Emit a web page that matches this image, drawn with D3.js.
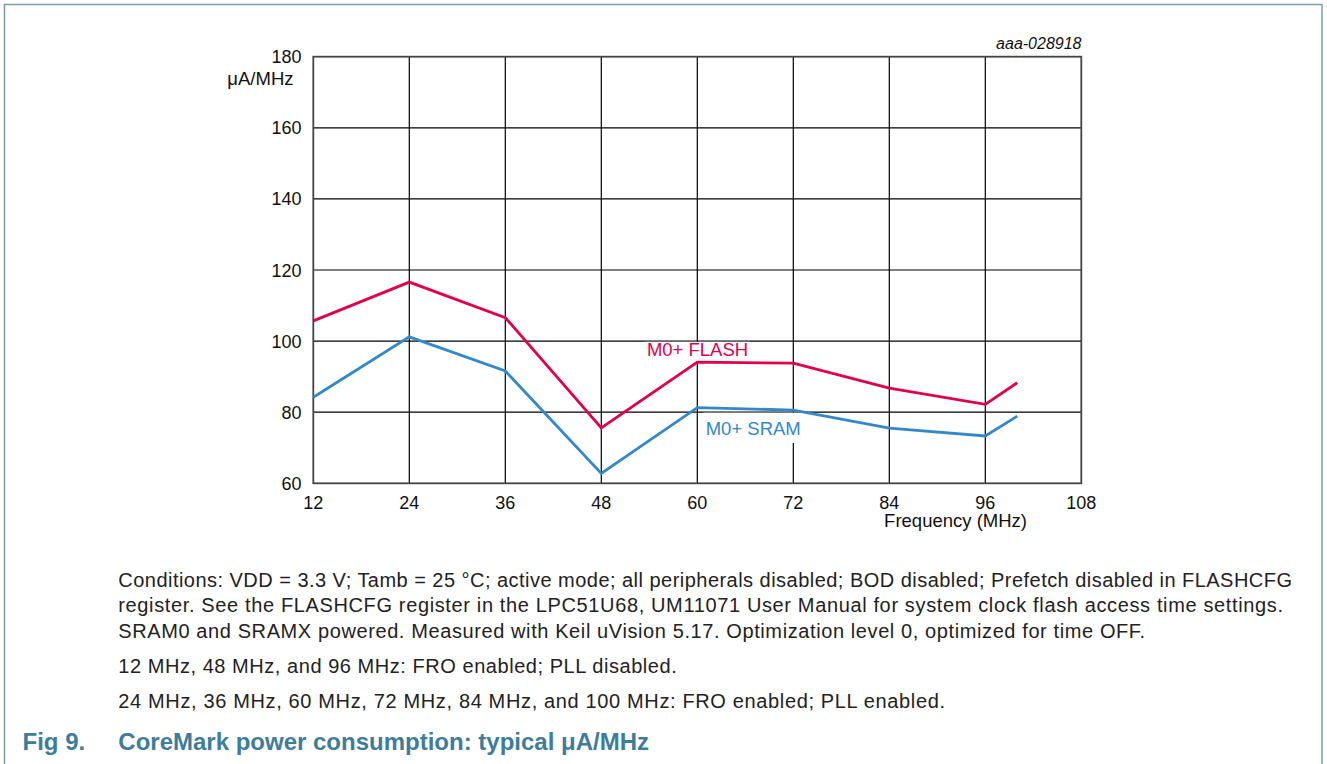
<!DOCTYPE html>
<html>
<head>
<meta charset="utf-8">
<script src="https://cdn.jsdelivr.net/npm/d3@7"></script>
<style>
  body { margin: 0; background: #fff; }
  svg { display: block; font-family: "Liberation Sans", Arial, sans-serif; }
</style>
</head>
<body>
<svg id="chart" width="1327" height="764"></svg>
<script>
// values
const freqs = [12, 24, 36, 48, 60, 72, 84, 96, 100];
const flash = [105.7, 116.6, 106.6, 75.6, 94.1, 93.8, 86.8, 82.2, 88.3];
const sram = [84.2, 101.2, 91.6, 62.8, 81.3, 80.6, 75.5, 73.3, 78.9];
const xTicks = [12, 24, 36, 48, 60, 72, 84, 96, 108];
const yTicks = [60, 80, 100, 120, 140, 160, 180];

const notes = [
  "Conditions: VDD = 3.3 V; Tamb = 25 °C; active mode; all peripherals disabled; BOD disabled; Prefetch disabled in FLASHCFG",
  "register. See the FLASHCFG register in the LPC51U68, UM11071 User Manual for system clock flash access time settings.",
  "SRAM0 and SRAMX powered. Measured with Keil uVision 5.17. Optimization level 0, optimized for time OFF.",
  "12 MHz, 48 MHz, and 96 MHz: FRO enabled; PLL disabled.",
  "24 MHz, 36 MHz, 60 MHz, 72 MHz, 84 MHz, and 100 MHz: FRO enabled; PLL enabled."
];
const noteY = [586.7, 612.3, 638.3, 673.3, 708.3];
const noteW = [1173.7, 1164.7, 1026.7, 558.4, 826.7];

const red = "#e2004e";
const blue = "#3388cc";

const svg = d3.select("#chart");

// outer frame of the figure
svg.append("rect")
  .attr("x", 4.5).attr("y", 4.5)
  .attr("width", 1317.5).attr("height", 820)
  .attr("fill", "none")
  .attr("stroke", "#7f9cad")
  .attr("stroke-width", 1.5);

const x = d3.scaleLinear().domain([12, 108]).range([313.3, 1081.3]);
const y = d3.scaleLinear().domain([60, 180]).range([483.3, 56.7]);

// grid
const grid = svg.append("g");
grid.selectAll(".vg")
  .data(xTicks.slice(1, -1))
  .enter()
  .append("line")
  .attr("x1", (d) => x(d)).attr("x2", (d) => x(d))
  .attr("y1", y(60)).attr("y2", y(180))
  .attr("stroke", "#000")
  .attr("stroke-width", 1.2);
grid.selectAll(".hg")
  .data(yTicks.slice(1, -1))
  .enter()
  .append("line")
  .attr("x1", x(12)).attr("x2", x(108))
  .attr("y1", (d) => y(d)).attr("y2", (d) => y(d))
  .attr("stroke", "#000")
  .attr("stroke-width", 1.2);

svg.append("rect")
  .attr("x", x(12)).attr("y", y(180))
  .attr("width", x(108) - x(12)).attr("height", y(60) - y(180))
  .attr("fill", "none")
  .attr("stroke", "#444")
  .attr("stroke-width", 1.8);

// tick labels
svg.selectAll(".yl")
  .data(yTicks)
  .enter()
  .append("text")
  .attr("x", 301.5)
  .attr("y", (d) => y(d) + 6.5)
  .attr("text-anchor", "end")
  .attr("font-size", 18)
  .attr("fill", "#111")
  .text((d) => d);

svg.selectAll(".xl")
  .data(xTicks)
  .enter()
  .append("text")
  .attr("x", (d) => x(d))
  .attr("y", 508.5)
  .attr("text-anchor", "middle")
  .attr("font-size", 18)
  .attr("fill", "#111")
  .text((d) => d);

svg.append("text")
  .attr("x", 293.5).attr("y", 85)
  .attr("text-anchor", "end")
  .attr("font-size", 18.5)
  .attr("fill", "#111")
  .text("μA/MHz");

svg.append("text")
  .attr("x", 1027).attr("y", 526.5)
  .attr("text-anchor", "end")
  .attr("font-size", 18.5)
  .attr("fill", "#111")
  .text("Frequency (MHz)");

svg.append("text")
  .attr("x", 1081.5).attr("y", 49)
  .attr("text-anchor", "end")
  .attr("font-size", 16)
  .attr("font-style", "italic")
  .attr("fill", "#111")
  .text("aaa-028918");

// in-plot series labels on white boxes
const seriesLabels = [
  { text: "M0+ FLASH", fx: 53.7, fy: 95.8, color: red, padTop: 1, padBot: 6 },
  { text: "M0+ SRAM", fx: 61.05, fy: 73.6, color: blue, padTop: 9, padBot: 8 }
];
seriesLabels.forEach((l) => {
  const fs = 18.5;
  const g = svg.append("g");
  const bg = g.append("rect").attr("fill", "#fff");
  const t = g.append("text")
    .attr("x", x(l.fx)).attr("y", y(l.fy))
    .attr("font-size", fs)
    .attr("fill", l.color)
    .text(l.text);
  const b = t.node().getBBox();
  const cap = fs * 0.716;
  bg.attr("x", b.x - 2).attr("y", y(l.fy) - cap - l.padTop)
    .attr("width", b.width + 4).attr("height", cap + l.padTop + l.padBot);
});

// series
const line = d3.line()
  .x((d, i) => x(freqs[i]))
  .y((d) => y(d));

[[flash, red], [sram, blue]].forEach(([vals, col]) => {
  svg.append("path")
    .datum(vals)
    .attr("d", line)
    .attr("fill", "none")
    .attr("stroke", col)
    .attr("stroke-width", 2.8)
    .attr("stroke-linejoin", "miter");
});

// notes below the chart
svg.selectAll(".note")
  .data(notes)
  .enter()
  .append("text")
  .attr("x", 118.3)
  .attr("y", (d, i) => noteY[i])
  .attr("font-size", 20)
  .attr("textLength", (d, i) => noteW[i])
  .attr("lengthAdjust", "spacing")
  .attr("fill", "#222")
  .text((d) => d);

const title = svg.append("g")
  .attr("font-size", 24)
  .attr("font-weight", "bold")
  .attr("fill", "#3e7c9b");
title.append("text").attr("x", 22.5).attr("y", 750).text("Fig 9.");
title.append("text").attr("x", 118.3).attr("y", 750).text("CoreMark power consumption: typical μA/MHz");
</script>
</body>
</html>
